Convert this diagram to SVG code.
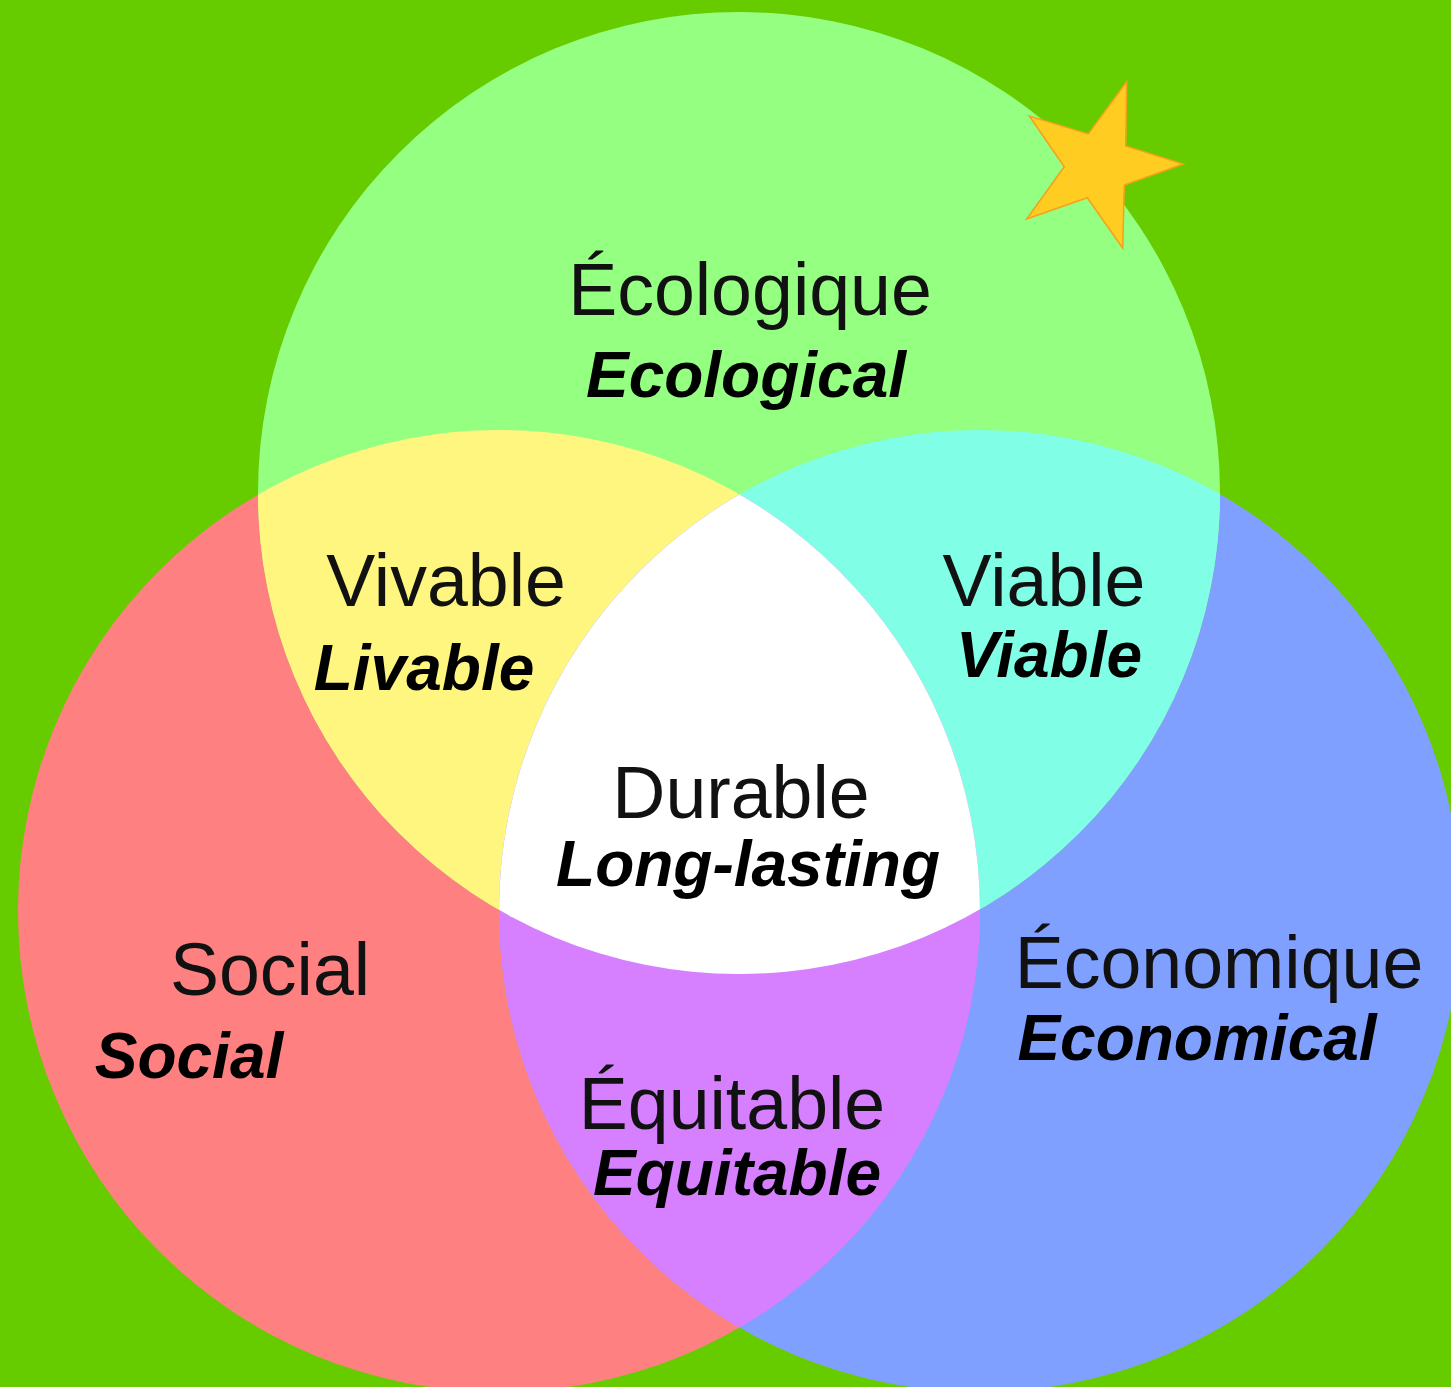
<svg xmlns="http://www.w3.org/2000/svg" width="1451" height="1387" viewBox="0 0 1451 1387">
<style>
.fr{font-family:"Liberation Sans",Arial,sans-serif;font-size:73.5px;fill:#111;text-anchor:middle}
.en{font-family:"Liberation Sans",Arial,sans-serif;font-size:64px;font-weight:bold;font-style:italic;fill:#000;text-anchor:middle}
</style>
<defs>
<clipPath id="cT"><circle cx="739" cy="493" r="481"/></clipPath>
<clipPath id="cR"><circle cx="499" cy="911" r="481"/></clipPath>
<clipPath id="cB"><circle cx="980" cy="911" r="481"/></clipPath>
</defs>
<rect width="1451" height="1387" fill="#66cc00"/>
<g id="social-circle"><circle cx="499" cy="911" r="481" fill="#ff8080"/></g>
<g id="economic-circle"><circle cx="980" cy="911" r="481" fill="#80a0ff"/></g>
<g id="ecological-circle"><circle cx="739" cy="493" r="481" fill="#94ff80"/></g>
<g id="livable-region"><circle cx="499" cy="911" r="481" fill="#fff680" clip-path="url(#cT)"/></g>
<g id="viable-region"><circle cx="980" cy="911" r="481" fill="#80ffe6" clip-path="url(#cT)"/></g>
<g id="equitable-region"><circle cx="980" cy="911" r="481" fill="#d780ff" clip-path="url(#cR)"/></g>
<g id="durable-region"><g clip-path="url(#cT)"><circle cx="980" cy="911" r="481" fill="#ffffff" clip-path="url(#cR)"/></g></g>
<g id="star"><polygon points="1126.7,81.7 1125.7,146 1183.3,164 1124.3,185 1122.7,248.3 1087.3,197.7 1026.7,219 1064.3,166.7 1029.3,116 1088.3,134" fill="#ffcc22" stroke="#f5a01e" stroke-width="1.5" stroke-linejoin="miter"/></g>
<g id="connectors"></g>
<g id="label-ecological"><text class="fr" x="750" y="315">Écologique</text><text class="en" x="746" y="397">Ecological</text></g>
<g id="label-livable"><text class="fr" x="446" y="606">Vivable</text><text class="en" x="424" y="690">Livable</text></g>
<g id="label-viable"><text class="fr" x="1044" y="606">Viable</text><text class="en" x="1049" y="677">Viable</text></g>
<g id="label-durable"><text class="fr" x="741" y="818">Durable</text><text class="en" x="748" y="886">Long-lasting</text></g>
<g id="label-social"><text class="fr" x="270" y="995">Social</text><text class="en" x="189" y="1078">Social</text></g>
<g id="label-economic"><text class="fr" x="1219" y="988">Économique</text><text class="en" x="1197" y="1060">Economical</text></g>
<g id="label-equitable"><text class="fr" x="732" y="1129">Équitable</text><text class="en" x="737" y="1195">Equitable</text></g>
</svg>
